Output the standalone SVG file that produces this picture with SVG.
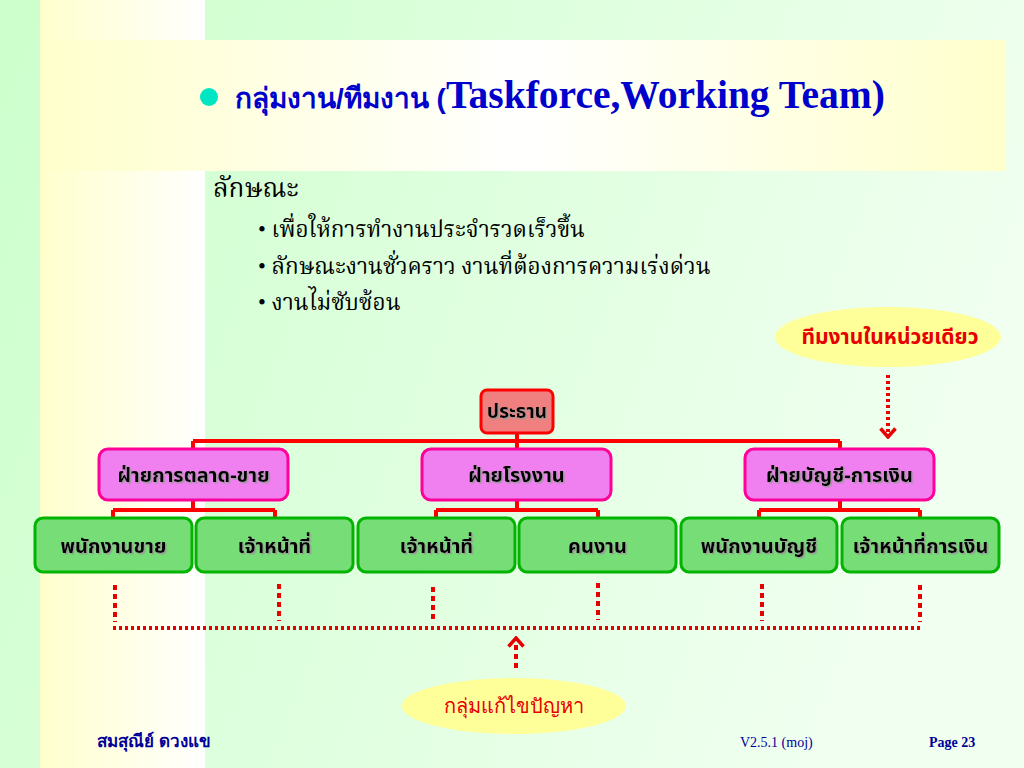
<svg xmlns="http://www.w3.org/2000/svg" width="1024" height="768" viewBox="0 0 1024 768">
<defs>
<linearGradient id="bg" x1="0" y1="0" x2="1" y2="0.3">
<stop offset="0" stop-color="#ccffcc"/>
<stop offset="1" stop-color="#f0fff0"/>
</linearGradient>
<linearGradient id="band" x1="0" y1="0" x2="1" y2="0">
<stop offset="0" stop-color="#ffffcc"/>
<stop offset="1" stop-color="#ffffff"/>
</linearGradient>
<linearGradient id="title" x1="0" y1="0" x2="1" y2="0">
<stop offset="0" stop-color="#ffffcc"/>
<stop offset="0.5" stop-color="#ffffff"/>
<stop offset="1" stop-color="#ffffcc"/>
</linearGradient>
<filter id="sh" x="-10%" y="-30%" width="130%" height="160%">
<feDropShadow dx="1.5" dy="1.5" stdDeviation="0.3" flood-color="#999999" flood-opacity="0.9"/>
</filter>
<marker id="chev" viewBox="0 0 12 18" refX="10" refY="9" markerWidth="12" markerHeight="18" markerUnits="userSpaceOnUse" orient="auto">
<path d="M1.5,1.5 L10,9 L1.5,16.5" fill="none" stroke="#e60000" stroke-width="3.5"/>
</marker>
<style>
.lbl{font-family:"Noto Sans Thai","Noto Sans","DejaVu Sans",sans-serif;font-weight:bold;fill:#000;text-anchor:middle}
.l1{fill:#f08080;stroke:#ff0000;stroke-width:3}
.l2{fill:#f080f0;stroke:#ff0099;stroke-width:3}
.l3{fill:#77dd77;stroke:#00b400;stroke-width:3}
.conn{fill:none;stroke:#ff0000;stroke-width:4}
.dot{fill:none;stroke:#e60000;stroke-width:4;stroke-dasharray:3 3}
.vdot{fill:none;stroke:#e60000;stroke-width:4;stroke-dasharray:5 4}
.body{font-family:"Liberation Serif","Noto Serif Thai",serif;fill:#000}
</style>
</defs>
<rect x="0" y="0" width="1024" height="768" fill="url(#bg)"/>
<rect x="40" y="0" width="165" height="768" fill="url(#band)"/>
<rect x="40" y="40" width="966" height="131" fill="url(#title)"/>

<g id="title-text">
<circle cx="209" cy="97" r="9" fill="#00e6c3"/>
<text x="235" y="108" fill="#0000cc"><tspan font-family="Liberation Sans Narrow, Liberation Sans, sans-serif" font-size="28" font-weight="bold">กลุ่มงาน/ทีมงาน (</tspan><tspan font-family="Liberation Serif, serif" font-size="39.5" font-weight="bold">Taskforce,Working Team)</tspan></text>
</g>

<g id="bullets" class="body">
<text x="213" y="197" font-size="26">ลักษณะ</text>
<text x="258" y="237" font-size="22.5">• เพื่อให้การทำงานประจำรวดเร็วขึ้น</text>
<text x="258" y="274" font-size="22.5">• ลักษณะงานชั่วคราว งานที่ต้องการความเร่งด่วน</text>
<text x="258" y="310" font-size="22.5">• งานไม่ซับซ้อน</text>
</g>

<g id="connectors">
<path class="conn" d="M517,433 V441 M193,441 H840 M193,441 V450 M517,441 V450 M840,441 V450"/>
<path class="conn" d="M193,500 V510 M113,510 H275 M113,510 V518 M275,510 V518"/>
<path class="conn" d="M517,500 V510 M436,510 H598 M436,510 V518 M598,510 V518"/>
<path class="conn" d="M840,500 V510 M759,510 H920 M759,510 V518 M920,510 V518"/>
<path class="vdot" d="M115,585 V622 M279,584 V621 M433,587 V622 M598,583 V620 M762,584 V621 M920,585 V622"/>
<path class="dot" d="M113,628 H922"/>
<path class="dot" d="M888,375 V437" marker-end="url(#chev)"/>
<path class="vdot" d="M516,668 V638" marker-end="url(#chev)"/>
</g>

<g id="n-president">
<rect class="l1" x="481" y="390" width="72" height="43" rx="6"/>
<text class="lbl" x="517" y="418" font-size="19" filter="url(#sh)">ประธาน</text>
</g>
<g id="n-marketing">
<rect class="l2" x="99" y="449" width="189" height="51" rx="9"/>
<text class="lbl" x="193.5" y="482" font-size="20" filter="url(#sh)">ฝ่ายการตลาด-ขาย</text>
</g>
<g id="n-factory">
<rect class="l2" x="422" y="449" width="189" height="51" rx="9"/>
<text class="lbl" x="516.5" y="482" font-size="20" filter="url(#sh)">ฝ่ายโรงงาน</text>
</g>
<g id="n-finance">
<rect class="l2" x="745" y="449" width="189" height="51" rx="9"/>
<text class="lbl" x="839.5" y="482" font-size="20" filter="url(#sh)">ฝ่ายบัญชี-การเงิน</text>
</g>
<g id="n-sales">
<rect class="l3" x="35" y="518" width="157" height="54" rx="8"/>
<text class="lbl" x="113.5" y="553" font-size="20" filter="url(#sh)">พนักงานขาย</text>
</g>
<g id="n-officer1">
<rect class="l3" x="196" y="518" width="157" height="54" rx="8"/>
<text class="lbl" x="274.5" y="553" font-size="20" filter="url(#sh)">เจ้าหน้าที่</text>
</g>
<g id="n-officer2">
<rect class="l3" x="358" y="518" width="157" height="54" rx="8"/>
<text class="lbl" x="436.5" y="553" font-size="20" filter="url(#sh)">เจ้าหน้าที่</text>
</g>
<g id="n-worker">
<rect class="l3" x="519" y="518" width="157" height="54" rx="8"/>
<text class="lbl" x="597.5" y="553" font-size="20" filter="url(#sh)">คนงาน</text>
</g>
<g id="n-accountant">
<rect class="l3" x="681" y="518" width="156" height="54" rx="8"/>
<text class="lbl" x="759" y="553" font-size="20" filter="url(#sh)">พนักงานบัญชี</text>
</g>
<g id="n-treasury">
<rect class="l3" x="842" y="518" width="157" height="54" rx="8"/>
<text class="lbl" x="920.5" y="553" font-size="20" filter="url(#sh)">เจ้าหน้าที่การเงิน</text>
</g>

<g id="n-unit-team">
<ellipse cx="888" cy="337" rx="113" ry="30" fill="#ffff99"/>
<text x="890" y="344" text-anchor="middle" font-family="Noto Sans Thai, Noto Sans, DejaVu Sans, sans-serif" font-weight="bold" font-size="21" fill="#e60000">ทีมงานในหน่วยเดียว</text>
</g>
<g id="n-problem-team">
<ellipse cx="514" cy="706" rx="112" ry="28" fill="#ffff99"/>
<text x="514" y="713" text-anchor="middle" font-family="Liberation Sans Narrow, Liberation Sans, sans-serif" font-size="20" fill="#e60000">กลุ่มแก้ไขปัญหา</text>
</g>

<g id="footer">
<text x="97" y="747" font-family="Liberation Sans Narrow, Liberation Sans, sans-serif" font-weight="bold" font-size="17" fill="#000099">สมสุณีย์  ดวงแข</text>
<text x="740" y="747" font-family="Liberation Serif, serif" font-size="14" fill="#000099">V2.5.1 (moj)</text>
<text x="929" y="747" font-family="Liberation Serif, serif" font-weight="bold" font-size="14" fill="#000099">Page 23</text>
</g>
</svg>
